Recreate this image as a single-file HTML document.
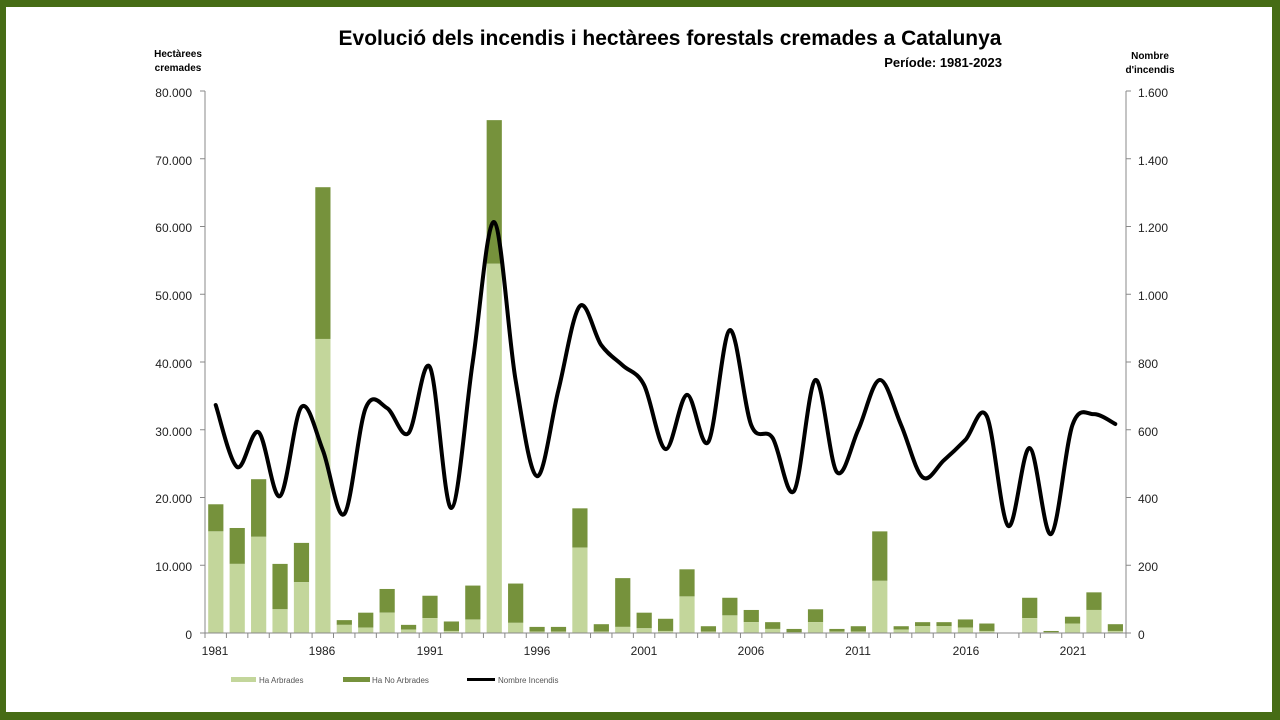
<!DOCTYPE html>
<html><head><meta charset="utf-8">
<style>
html,body{margin:0;padding:0;}
body{width:1280px;height:720px;overflow:hidden;background:#466c15;}
#wrap{position:absolute;left:6px;top:7px;width:1266px;height:705px;background:#fff;}
svg{position:absolute;left:0;top:0;}
text{font-family:"Liberation Sans",sans-serif;}
</style></head><body>
<div id="wrap"></div>
<svg id="s" width="1280" height="720" xmlns="http://www.w3.org/2000/svg">
<rect x="6" y="7" width="1266" height="705" fill="#fff"/>
<text x="670" y="45" text-anchor="middle" font-size="21" font-weight="bold" fill="#000">Evolució dels incendis i hectàrees forestals cremades a Catalunya</text>
<text x="1002" y="67" text-anchor="end" font-size="13" font-weight="bold" fill="#000">Període: 1981-2023</text>
<text x="178" y="57" text-anchor="middle" font-size="10" font-weight="bold" fill="#000">Hectàrees</text>
<text x="178" y="71" text-anchor="middle" font-size="10" font-weight="bold" fill="#000">cremades</text>
<text x="1150" y="59" text-anchor="middle" font-size="10" font-weight="bold" fill="#000">Nombre</text>
<text x="1150" y="73" text-anchor="middle" font-size="10" font-weight="bold" fill="#000">d'incendis</text>
<g font-size="12" fill="#222" text-anchor="end">
<text x="192" y="97">80.000</text><text x="192" y="165">70.000</text><text x="192" y="232">60.000</text>
<text x="192" y="300">50.000</text><text x="192" y="368">40.000</text><text x="192" y="436">30.000</text>
<text x="192" y="503">20.000</text><text x="192" y="571">10.000</text><text x="192" y="639">0</text>
</g>
<g font-size="12" fill="#222" text-anchor="start">
<text x="1138" y="97">1.600</text><text x="1138" y="165">1.400</text><text x="1138" y="232">1.200</text>
<text x="1138" y="300">1.000</text><text x="1138" y="368">800</text><text x="1138" y="436">600</text>
<text x="1138" y="503">400</text><text x="1138" y="571">200</text><text x="1138" y="639">0</text>
</g>
<g font-size="12" fill="#222" text-anchor="middle">
<text x="215" y="655">1981</text><text x="322" y="655">1986</text><text x="430" y="655">1991</text>
<text x="537" y="655">1996</text><text x="644" y="655">2001</text><text x="751" y="655">2006</text>
<text x="858" y="655">2011</text><text x="966" y="655">2016</text><text x="1073" y="655">2021</text>
</g>
<g id="plot"></g>
<rect x="231" y="677" width="25" height="5" fill="#c3d69b"/>
<text x="259" y="683" font-size="8" fill="#555">Ha Arbrades</text>
<rect x="343" y="677" width="27" height="5" fill="#76923c"/>
<text x="372" y="683" font-size="8" fill="#555">Ha No Arbrades</text>
<rect x="467" y="678" width="28" height="3" fill="#000"/>
<text x="498" y="683" font-size="8" fill="#555">Nombre Incendis</text>
</svg>
<script>
var tot=[19000,15500,22700,10200,13300,65800,1900,3000,6500,1200,5500,1700,7000,75700,7300,900,900,18400,1300,8100,3000,2100,9400,1000,5200,3400,1600,600,3500,600,1000,15000,1000,1600,1600,2000,1400,0,5200,300,2400,6000,1300];
var lit=[15000,10200,14200,3500,7500,43400,1200,800,3000,500,2200,300,2000,54500,1500,200,200,12600,200,900,700,300,5400,200,2600,1600,600,100,1600,200,200,7700,500,1000,1000,800,300,0,2200,100,1400,3400,300];
var fire=[673,490,593,404,667,540,351,664,664,590,785,369,800,1213,747,463,717,965,850,790,732,543,703,564,894,614,576,419,747,475,600,747,614,460,510,570,640,316,546,292,614,646,617];
var L=205,R=1126,Y0=633,n=43,w=(R-L)/n,h="";
function yb(v){return Y0-v*0.006775;}
function yf(v){return Y0-v*0.33875;}
for(var i=0;i<n;i++){var x=L+w*i+3.2,bw=15.2;
 if(tot[i]>0){h+='<rect x="'+x+'" y="'+yb(tot[i])+'" width="'+bw+'" height="'+(tot[i]-lit[i])*0.006775+'" fill="#76923c"/>';
 h+='<rect x="'+x+'" y="'+yb(lit[i])+'" width="'+bw+'" height="'+lit[i]*0.006775+'" fill="#c3d69b"/>';}}
h+='<line x1="'+L+'" y1="91" x2="'+L+'" y2="'+Y0+'" stroke="#888" stroke-width="1"/>';
h+='<line x1="'+R+'" y1="91" x2="'+R+'" y2="'+Y0+'" stroke="#888" stroke-width="1"/>';
h+='<line x1="'+(L-5)+'" y1="'+Y0+'" x2="'+(R+5)+'" y2="'+Y0+'" stroke="#888" stroke-width="1"/>';
for(var k=0;k<=8;k++){var yy=91+k*67.75;h+='<line x1="'+(L-5)+'" y1="'+yy+'" x2="'+L+'" y2="'+yy+'" stroke="#888"/><line x1="'+R+'" y1="'+yy+'" x2="'+(R+5)+'" y2="'+yy+'" stroke="#888"/>';}
for(var i=0;i<=n;i++){var xx=L+w*i;h+='<line x1="'+xx+'" y1="'+Y0+'" x2="'+xx+'" y2="'+(Y0+5)+'" stroke="#888"/>';}
var P=[];for(var i=0;i<n;i++)P.push([L+w*(i+0.5),yf(fire[i])]);
var d="M"+P[0][0]+","+P[0][1];
for(var i=0;i<n-1;i++){var p0=P[i-1]||P[i],p1=P[i],p2=P[i+1],p3=P[i+2]||P[i+1],t=6;
 d+=" C"+(p1[0]+(p2[0]-p0[0])/t)+","+(p1[1]+(p2[1]-p0[1])/t)+" "+(p2[0]-(p3[0]-p1[0])/t)+","+(p2[1]-(p3[1]-p1[1])/t)+" "+p2[0]+","+p2[1];}
h+='<path d="'+d+'" fill="none" stroke="#000" stroke-width="4" stroke-linejoin="round" stroke-linecap="round"/>';
document.getElementById("plot").innerHTML=h;
</script>
</body></html>
